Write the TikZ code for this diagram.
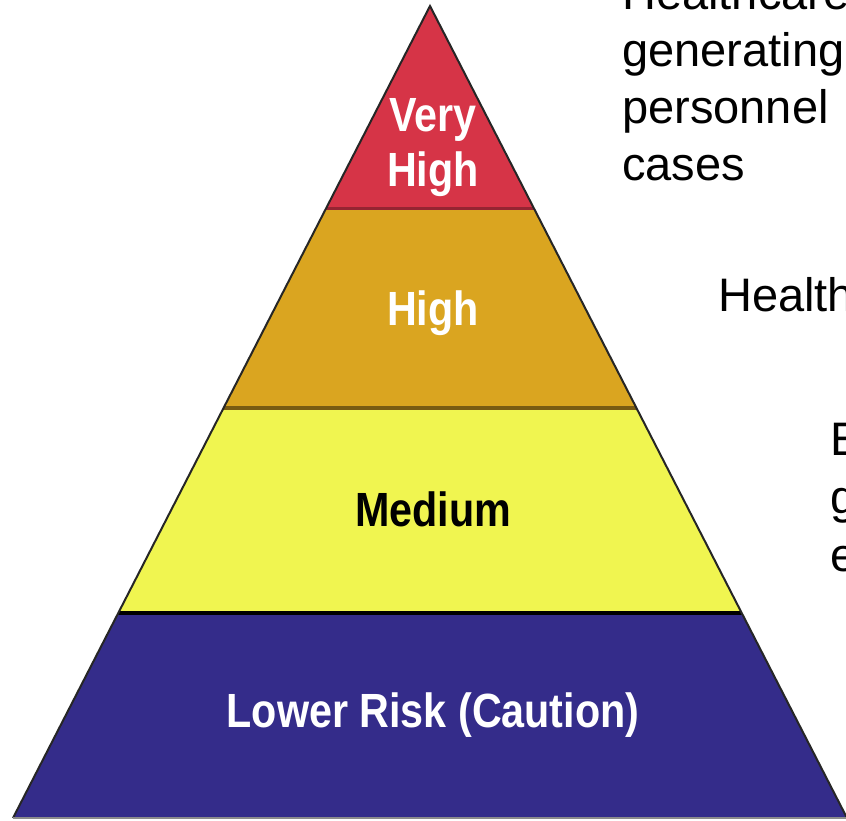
\documentclass[tikz,border=0pt]{standalone}
\usepackage{fontspec}
\setmainfont{Liberation Sans}
\newfontfamily\tierfont{Liberation Sans}[FakeStretch=0.86]
\usetikzlibrary{calc}

\definecolor{veryhigh}{HTML}{D63447}
\definecolor{high}{HTML}{DAA520}
\definecolor{medium}{HTML}{F0F550}
\definecolor{lowrisk}{HTML}{342C8A}

\begin{document}
\begin{tikzpicture}[x=1pt,y=-1pt,
    tier/.style={font=\tierfont\bfseries\fontsize{48}{48}\selectfont, inner sep=0pt, anchor=base},
    note/.style={font=\fontsize{47}{57}\selectfont, inner sep=0pt, anchor=base west}]
  \useasboundingbox (0,0) rectangle (846,821);
  \fill[white] (0,0) rectangle (846,821);
  \clip (0,0) rectangle (846,821);

  \coordinate (apex) at (430,6);
  \coordinate (bl) at (13,818);
  \coordinate (br) at (847,818);

  \coordinate (l1) at ($(apex)!0.2488!(bl)$);
  \coordinate (r1) at ($(apex)!0.2488!(br)$);
  \coordinate (l2) at ($(apex)!0.4951!(bl)$);
  \coordinate (r2) at ($(apex)!0.4951!(br)$);
  \coordinate (l3) at ($(apex)!0.7475!(bl)$);
  \coordinate (r3) at ($(apex)!0.7475!(br)$);

  \fill[veryhigh] (apex) -- (r1) -- (l1) -- cycle;
  \fill[high] (l1) -- (r1) -- (r2) -- (l2) -- cycle;
  \fill[medium] (l2) -- (r2) -- (r3) -- (l3) -- cycle;
  \fill[lowrisk] (l3) -- (r3) -- (br) -- (bl) -- cycle;

  \draw[line width=3pt, color=veryhigh!70!black] (l1) -- (r1);
  \draw[line width=4pt, color=high!55!black] (l2) -- (r2);
  \draw[line width=4pt, black] (l3) -- (r3);
  \draw[line width=2pt, color=black!85] (bl) -- (apex) -- (br);
  \draw[line width=2pt, color=black!45] (bl) -- (br);

  \node[tier, white] (vh1) at (433,132) {Very};
  \node[tier, white] (vh2) at (433,187) {High};
  \node[tier, white] (hi) at (433,325) {High};
  \node[tier, black] (med) at (433,526) {Medium};
  \node[tier, white] (low) at (433,727) {Lower Risk (Caution)};

  \node[note] (n1) at (622,10) {Healthcare};
  \node[note] (n2) at (622,67) {generating};
  \node[note] (n3) at (622,124) {personnel};
  \node[note] (n4) at (622,181) {cases};

  \node[note] (n5) at (718,311) {Healthcare};

  \node[note] (n6) at (830,455) {E};
  \node[note] (n7) at (830,513) {g};
  \node[note] (n8) at (830,571) {e};
\end{tikzpicture}
\end{document}
